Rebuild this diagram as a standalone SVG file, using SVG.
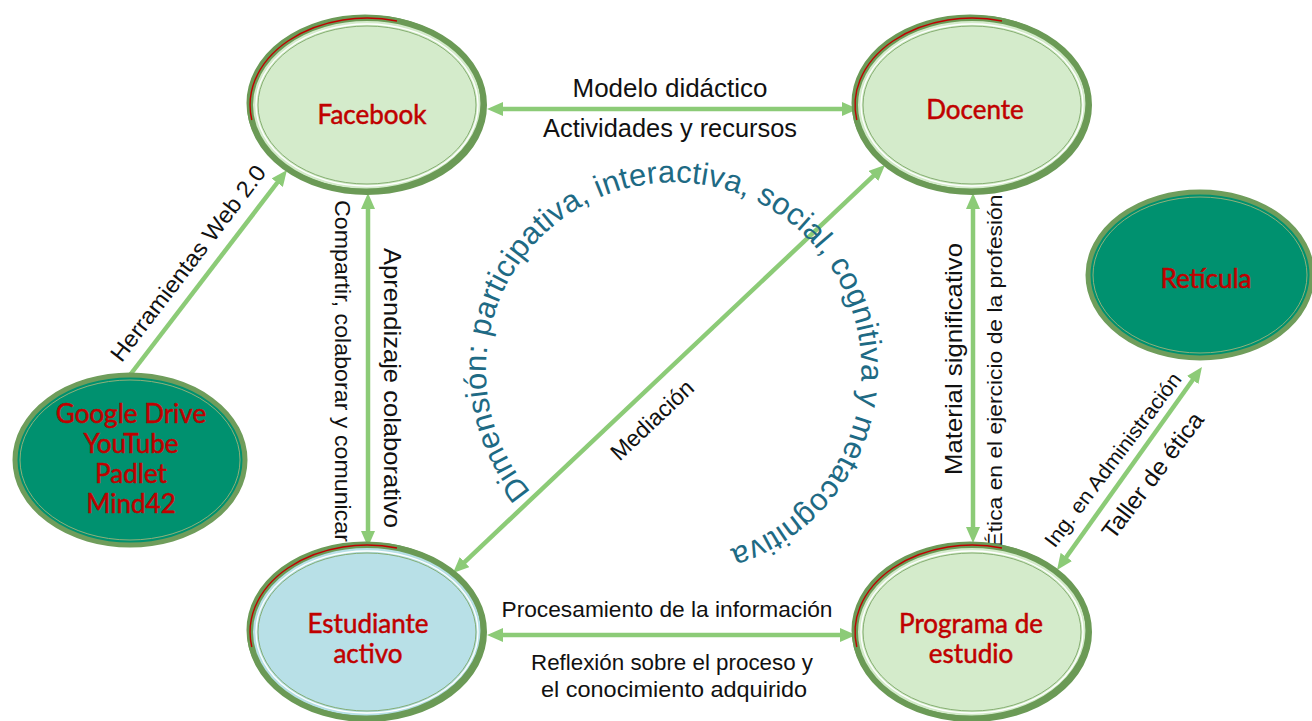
<svg xmlns="http://www.w3.org/2000/svg" width="1312" height="721" viewBox="0 0 1312 721">
<style>
.bg{fill:#ffffff}
.lt{fill:#D4EBCB;stroke:#6B9A56;stroke-width:6}
.bl{fill:#B8E0E7;stroke:#6B9A56;stroke-width:6}
.dk{fill:#00916F;stroke:#6F9D5B;stroke-width:5}
.in1{fill:none;stroke:#ffffff;stroke-width:1.3}
.in2{fill:none;stroke:#7DA768;stroke-width:0.9}
.red{fill:none;stroke:#C00000;stroke-width:1.4}
.ntx{font-family:Lato,"Liberation Sans",sans-serif;font-size:26px;fill:#C00000;stroke:#C00000;stroke-width:0.5;text-anchor:middle}
.con{stroke:#8CCB77;stroke-width:4.5;fill:none;marker-start:url(#ah);marker-end:url(#ah)}
.one{stroke:#8CCB77;stroke-width:4.5;fill:none;marker-end:url(#ah)}
.lbl{font-family:"Liberation Sans",Arial,sans-serif;fill:#111111;text-anchor:middle}
.dim{font-family:"Liberation Sans",Arial,sans-serif;font-size:31px;fill:#1E6A84}
</style>
<defs>
<marker id="ah" viewBox="0 0 16 14" markerUnits="userSpaceOnUse" markerWidth="16" markerHeight="14" refX="4" refY="7" orient="auto-start-reverse">
<path d="M0,0 L16,7 L0,14 z" fill="#8CCB77"/>
</marker>
<path id="circ" d="M531 492 A186 186 0 1 1 816.4 248.2 A186 186 0 1 1 531 492"/>
</defs>
<rect class="bg" x="0" y="0" width="1312" height="721"/>

<g id="connectors">
<line class="con" x1="499" y1="109" x2="846" y2="109"/>
<line class="con" x1="499" y1="635" x2="844" y2="635"/>
<line class="con" x1="368" y1="205" x2="368" y2="535"/>
<line class="con" x1="973" y1="205" x2="973" y2="531"/>
<line class="con" x1="461.7" y1="564.8" x2="876.3" y2="173.2"/>
<line class="one" x1="130" y1="375" x2="279.7" y2="179.5"/>
<line class="con" x1="1064" y1="560.2" x2="1195" y2="376.8"/>

<text class="lbl" x="670" y="97" font-size="25" textLength="195" lengthAdjust="spacingAndGlyphs">Modelo didáctico</text>
<text class="lbl" x="670" y="137" font-size="25" textLength="254" lengthAdjust="spacingAndGlyphs">Actividades y recursos</text>
<text class="lbl" x="667" y="617" font-size="22" textLength="331" lengthAdjust="spacingAndGlyphs">Procesamiento de la información</text>
<text class="lbl" x="672" y="670" font-size="22" textLength="282" lengthAdjust="spacingAndGlyphs">Reflexión sobre el proceso y</text>
<text class="lbl" x="674" y="697" font-size="22" textLength="266" lengthAdjust="spacingAndGlyphs">el conocimiento adquirido</text>
<text class="lbl" transform="translate(335,371) rotate(90)" x="0" y="0" font-size="22" textLength="342" lengthAdjust="spacingAndGlyphs">Compartir, colaborar y comunicar</text>
<text class="lbl" transform="translate(384,388) rotate(90)" x="0" y="0" font-size="24" textLength="280" lengthAdjust="spacingAndGlyphs">Aprendizaje colaborativo</text>
<text class="lbl" transform="translate(962,359) rotate(-90)" x="0" y="0" font-size="24" textLength="232" lengthAdjust="spacingAndGlyphs">Material significativo</text>
<text class="lbl" transform="translate(1002,371) rotate(-90)" x="0" y="0" font-size="21" textLength="353" lengthAdjust="spacingAndGlyphs">Ética en el ejercicio de la profesión</text>
<text class="lbl" transform="translate(652,420) rotate(-43.4)" x="0" y="8" font-size="23">Mediación</text>
<text class="lbl" transform="translate(188,263) rotate(-52.6)" x="0" y="8" font-size="23" textLength="240" lengthAdjust="spacingAndGlyphs">Herramientas Web 2.0</text>
<text class="lbl" transform="translate(1113,460) rotate(-53)" x="0" y="7" font-size="21" textLength="212" lengthAdjust="spacingAndGlyphs">Ing. en Administración</text>
<text class="lbl" transform="translate(1152,475) rotate(-53)" x="0" y="9" font-size="24" textLength="152" lengthAdjust="spacingAndGlyphs">Taller de ética</text>
</g>

<text class="dim"><textPath href="#circ" textLength="960" lengthAdjust="spacing">Dimensión: participativa, interactiva, social, cognitiva y metacognitiva</textPath></text>

<g id="facebook" transform="translate(367,105)">
<ellipse class="lt" rx="117" ry="87"/>
<ellipse fill="none" stroke="#6B9A56" stroke-width="3" cx="-2" cy="-2" rx="117" ry="87"/>
<ellipse class="in1" rx="111" ry="81"/>
<ellipse class="in2" rx="109" ry="79"/>
<path class="red" d="M-115.2 15 A117 87 0 0 1 30 -84"/>
<text class="ntx" x="5" y="19">Facebook</text>
</g>

<g id="docente" transform="translate(972,105)">
<ellipse class="lt" rx="117" ry="87"/>
<ellipse fill="none" stroke="#6B9A56" stroke-width="3" cx="-2" cy="-2" rx="117" ry="87"/>
<ellipse class="in1" rx="111" ry="81"/>
<ellipse class="in2" rx="109" ry="79"/>
<path class="red" d="M-115.2 15 A117 87 0 0 1 30 -84"/>
<text class="ntx" x="3" y="14">Docente</text>
</g>

<g id="estudiante" transform="translate(367,632)">
<ellipse class="bl" rx="117" ry="87"/>
<ellipse fill="none" stroke="#6B9A56" stroke-width="3" cx="-2" cy="-2" rx="117" ry="87"/>
<ellipse class="in1" rx="111" ry="81"/>
<ellipse class="in2" rx="109" ry="79"/>
<path class="red" d="M-115.2 15 A117 87 0 0 1 30 -84"/>
<text class="ntx" x="1" y="1">Estudiante</text>
<text class="ntx" x="1" y="31">activo</text>
</g>

<g id="programa" transform="translate(972,632)">
<ellipse class="lt" rx="117" ry="87"/>
<ellipse fill="none" stroke="#6B9A56" stroke-width="3" cx="-2" cy="-2" rx="117" ry="87"/>
<ellipse class="in1" rx="111" ry="81"/>
<ellipse class="in2" rx="109" ry="79"/>
<path class="red" d="M-115.2 15 A117 87 0 0 1 30 -84"/>
<text class="ntx" x="-1" y="1">Programa de</text>
<text class="ntx" x="-1" y="31">estudio</text>
</g>

<g id="google" transform="translate(130,460)">
<ellipse class="dk" rx="115" ry="85"/>
<ellipse fill="none" stroke="#8FB07A" stroke-width="1" rx="110" ry="80"/>
<text class="ntx" x="1" y="-37">Google Drive</text>
<text class="ntx" x="1" y="-7">YouTube</text>
<text class="ntx" x="1" y="23">Padlet</text>
<text class="ntx" x="1" y="53">Mind42</text>
</g>

<g id="reticula" transform="translate(1200,275)">
<ellipse class="dk" rx="112" ry="83"/>
<ellipse fill="none" stroke="#8FB07A" stroke-width="1" rx="107" ry="78"/>
<text class="ntx" x="6" y="13">Retícula</text>
</g>
</svg>
